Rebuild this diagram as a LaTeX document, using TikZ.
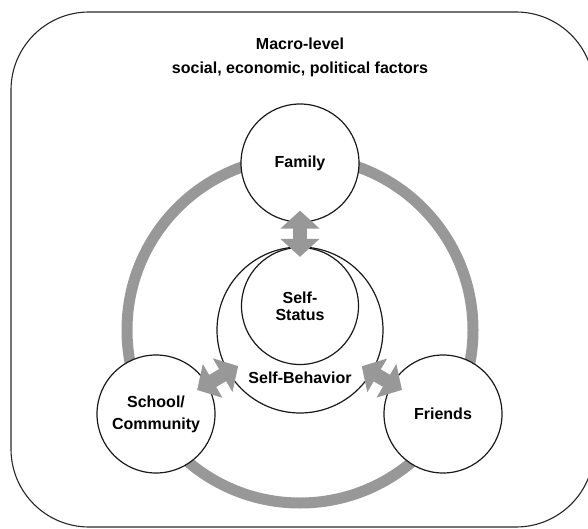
\documentclass[tikz,border=0pt]{standalone}
\usepackage{fontspec}
\setmainfont{Liberation Sans}
\usepackage{tikz}
\usetikzlibrary{arrows.meta,positioning}
\definecolor{ecogray}{RGB}{152,152,152}
\tikzset{
  every picture/.append style={line cap=round,line join=round},
  eco frame/.style={draw=black!85,line width=1.1pt,rounded corners=78pt},
  eco ring/.style={draw=ecogray,line width=11pt},
  eco text/.style={font=\bfseries\fontsize{16pt}{17pt}\selectfont,align=center},
  eco circle/.style={eco text,circle,draw=black!90,fill=white,line width=1.2pt,inner sep=0pt},
  eco arrow/.style={draw=ecogray,line width=14pt,line cap=butt,
    {Triangle[width=38pt,length=18pt]}-{Triangle[width=38pt,length=18pt]}}
}

\begin{document}
\begin{tikzpicture}[x=1pt,y=-1pt]
  \useasboundingbox (0,0) rectangle (588,529);
  \draw[eco frame] (11,12) rectangle (594,527);
  \node[eco text] (macro) at (300,57) {Macro-level\\[7pt]social, economic, political factors};
  % ring of the three settings round the self
  \coordinate (hub) at (300,330);
  \draw[eco ring] (hub) circle[radius=173pt];
  \node[eco circle,minimum size=166pt] (behavior) at (hub) {};
  \node[eco circle,minimum size=117pt] (status) at (300,306) {Self-\\Status};
  \node[eco text,inner sep=0pt,below=7pt of status] (behaviorlabel) {Self-Behavior};
  \node[eco circle,minimum size=118pt] (family) at (300,163) {Family};
  \node[eco circle,minimum size=118pt] (school) at (156,414) {School/\\[5pt]Community};
  \node[eco circle,minimum size=118pt] (friends) at (443,414) {Friends};
  % two-way links
  \draw[eco arrow,shorten <=-12pt,shorten >=-10pt] (family) -- (status);
  \draw[eco arrow,shorten <=-12pt,shorten >=-12pt] (school) -- (behavior);
  \draw[eco arrow,shorten <=-12pt,shorten >=-12pt] (friends) -- (behavior);
\end{tikzpicture}
\end{document}
